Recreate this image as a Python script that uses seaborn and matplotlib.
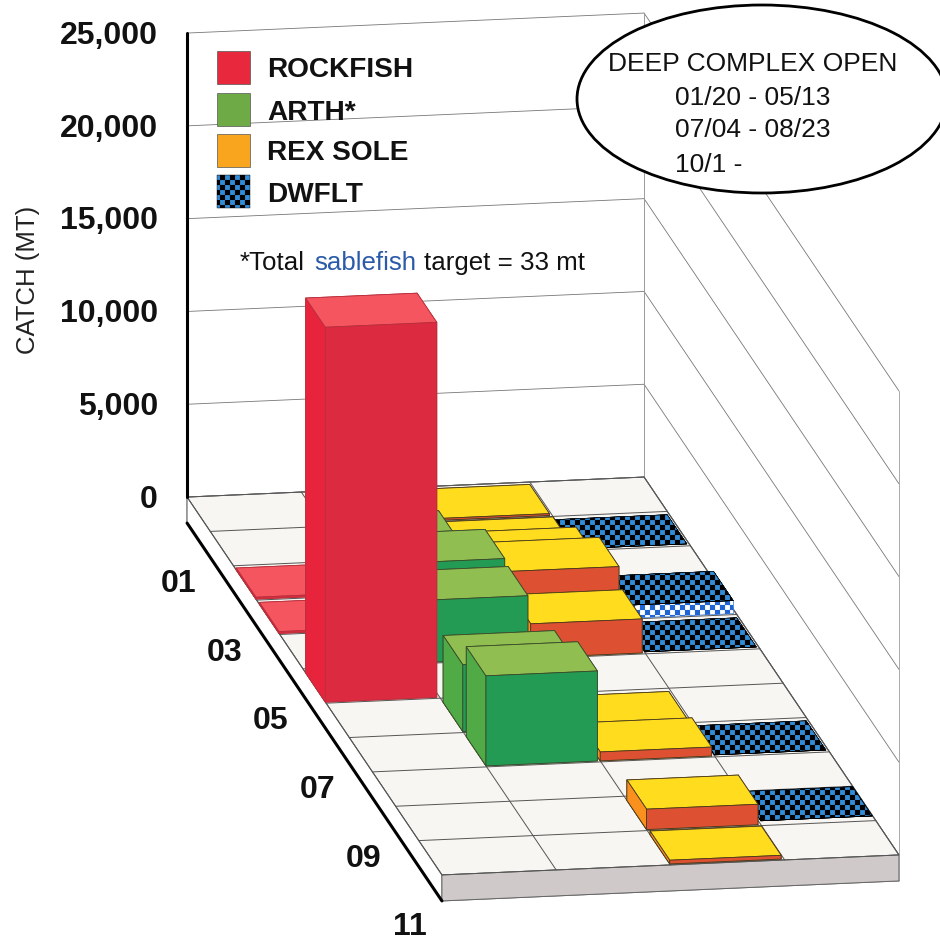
import matplotlib
matplotlib.use('Agg')
import matplotlib.hatch as mhatch
import matplotlib.pyplot as plt
from matplotlib.patches import Ellipse, Rectangle
from matplotlib.path import Path
from mpl_toolkits.mplot3d import proj3d
import seaborn as sns

# catch by month (mt)
months = [1, 2, 3, 4, 5, 6, 7, 8, 9, 10, 11]
rockfish = [0, 0, 100, 100, 0, 20200, 0, 0, 0, 0, 0]
arth = [0, 800, 600, 3500, 3350, 0, 3600, 4850, 0, 0, 0]
rex_sole = [100, 200, 1500, 2800, 1830, 0, 50, 480, 0, 1100, 200]
dwflt = [0, 50, 0, 700, 50, 0, 0, 50, 0, 200, 0]

species = ['ROCKFISH', 'ARTH*', 'REX SOLE', 'DWFLT']
legend_colors = ['#e8283c', '#6eaa46', '#faa51e', '#328cd7']
z_ticks = [0, 5000, 10000, 15000, 20000, 25000]
z_labels = ['0', '5,000', '10,000', '15,000', '20,000', '25,000']
month_labels = ['01', '03', '05', '07', '09', '11']
month_ticks = [1, 3, 5, 7, 9, 11]
open_dates = ['01/20 - 05/13', '07/04 - 08/23', '10/1 -']

# face colours: top, front, left side
faces = [
    ('#f5555f', '#dc2a40', '#e8233c'),
    ('#91be50', '#239b55', '#50aa46'),
    ('#ffdc1e', '#de5032', '#fa911e'),
]
edges = ['#b8303c', '#3a4a2a', '#4a3a1a']
BASE = -1400


class CheckerHatch(mhatch.HatchPatternBase):
    # '*' in a hatch string now means a filled checkerboard
    filled = True

    def __init__(self, pattern, density):
        self.cells = pattern.count('*') * 20
        self.num_vertices = 5 * self.cells ** 2 // 2

    def set_vertices_and_codes(self, vertices, codes):
        size = 1.0 / self.cells
        k = 0
        for i in range(self.cells):
            for j in range(self.cells):
                if (i + j) % 2:
                    continue
                x, y = i * size, j * size
                vertices[k:k + 5] = [(x, y), (x + size, y), (x + size, y + size),
                                     (x, y + size), (x, y)]
                codes[k:k + 5] = [Path.MOVETO, Path.LINETO, Path.LINETO,
                                  Path.LINETO, Path.CLOSEPOLY]
                k += 5


mhatch._hatch_types[:] = [CheckerHatch]

sns.set_theme(style='white')
plt.rcParams['font.family'] = ['Liberation Sans', 'DejaVu Sans']
plt.rcParams['hatch.linewidth'] = 0.1

fig = plt.figure(figsize=(9.4, 9.41), dpi=100)
ax = fig.add_axes([60.3 / 940, 1.3 / 941, 1, 940 / 941], projection='3d',
                  proj_type='ortho', computed_zorder=False)
ax.view_init(elev=14.76, azim=-99.75)
ax.set_box_aspect((463.7, 1505, 506.7), zoom=1.7085)
ax.set_axis_off()


def box(col, y0, y1, z0, z1, colors, z, **kw):
    ax.bar3d(col, y0, z0, 0.975, y1 - y0, z1 - z0, color=colors, shade=False,
             zorder=z, **kw)


def face_list(top, front, side):
    # order used by bar3d: -z, +z, -y, +y, -x, +x
    return [top, top, front, front, side, side]


# floor plate
ax.bar3d(0, 0, BASE, 4, 11, -BASE, color=face_list('#f8f6f2', '#cfc9c9', '#ffffff'),
         shade=False, zorder=1, edgecolor='#666666', linewidth=0.7)

# walls
for t in z_ticks:
    ax.plot([0, 4], [0, 0], [t, t], color='#777777', lw=0.6, zorder=2)
    ax.plot([4, 4], [0, 11], [t, t], color='#777777', lw=0.6, zorder=2)
ax.plot([4, 4], [0, 0], [0, 25000], color='#999999', lw=0.7, zorder=2)
ax.plot([4, 4], [11, 11], [0, 25000], color='#aaaaaa', lw=0.7, zorder=2)

# floor grid
for m in range(0, 12):
    ax.plot([0, 4], [m, m], [0, 0], color='#555555', lw=0.7, zorder=2)
for c in range(0, 5):
    ax.plot([c, c], [0, 11], [0, 0], color='#555555', lw=0.7, zorder=2)

# axis lines
ax.plot([0, 0], [0, 0], [0, 25000], color='black', lw=2.2, zorder=2)
ax.plot([0, 0], [0, 11], [BASE, BASE], color='black', lw=2.2, zorder=2)

# bars, back row first, right column first inside a row
z = 3
series = [rockfish, arth, rex_sole, dwflt]
for i, m in enumerate(months):
    y0, y1 = m - 0.88, m - 0.03
    for col in [3, 2, 1, 0]:
        h = series[col][i]
        if h == 0:
            continue
        if col == 3:
            if h > 300:
                box(col, y0, y1, 0, h, 'white', z, edgecolor='#1e64d2',
                    linewidth=0.3, hatch='*')
                z += 1
            box(col, y0, y1, max(h - 1, 0), h, legend_colors[3], z,
                edgecolor='black', linewidth=0.4, hatch='*')
        else:
            box(col, y0, y1, 0, h, face_list(*faces[col]), z,
                edgecolor=edges[col], linewidth=0.6)
        z += 1

ax.set_xlim(0, 4)
ax.set_ylim(11, 0)
ax.set_zlim(BASE, 25000)


def label3d(x, y, z, s, **kw):
    # flat text placed at the projected spot of a data point
    px, py, _ = proj3d.proj_transform(x, y, z, ax.get_proj())
    ax.text2D(px, py, s, transform=ax.transData, fontweight='bold',
              color='#111111', zorder=500, va='center', **kw)


# tick labels
for t, lab in zip(z_ticks, z_labels):
    label3d(-0.255, 0, t - 80, lab, ha='right', fontsize=23)
for m, lab in zip(month_ticks, month_labels):
    label3d(-0.18, m - 0.5, -3700, lab, ha='center', fontsize=23)

# overlay in pixel units for the annotations
ov = fig.add_axes([0, 0, 1, 1], zorder=10)
ov.set_xlim(0, 940)
ov.set_ylim(941, 0)
ov.set_axis_off()
ov.patch.set_alpha(0)

ov.text(28, 280, 'CATCH (MT)', rotation=90, ha='center', va='center',
        fontsize=18.5, color='#222222')

swatch_y = [51, 93, 134, 175]
label_y = [69.5, 112.5, 152.5, 195]
for name, color, sy, ly in zip(species, legend_colors, swatch_y, label_y):
    if name == 'DWFLT':
        ov.add_patch(Rectangle((217, sy), 33, 33, facecolor=color,
                               edgecolor='black', linewidth=0.3, hatch='*'))
    else:
        ov.add_patch(Rectangle((217, sy), 33, 33, facecolor=color,
                               edgecolor='#555555', linewidth=0.5))
    ov.text(267, ly, name, ha='left', va='center', fontsize=20.2,
            fontweight='bold', color='#111111')

ov.text(240, 263, '*Total', ha='left', va='center', fontsize=18.6, color='#111111')
ov.text(314, 263, 'sablefish', ha='left', va='center', fontsize=18.6, color='#2a5aa8')
ov.text(424, 263, 'target = 33 mt', ha='left', va='center', fontsize=18.6,
        color='#111111')

ov.add_patch(Ellipse((762, 99), 370, 188, facecolor='white', edgecolor='black',
                     linewidth=2))
ov.text(608, 64, 'DEEP COMPLEX OPEN', ha='left', va='center', fontsize=19,
        color='#111111')
for txt, y in zip(open_dates, [98, 130, 165]):
    ov.text(675, y, txt, ha='left', va='center', fontsize=19, color='#111111')

fig.savefig('out.png', dpi=100)
